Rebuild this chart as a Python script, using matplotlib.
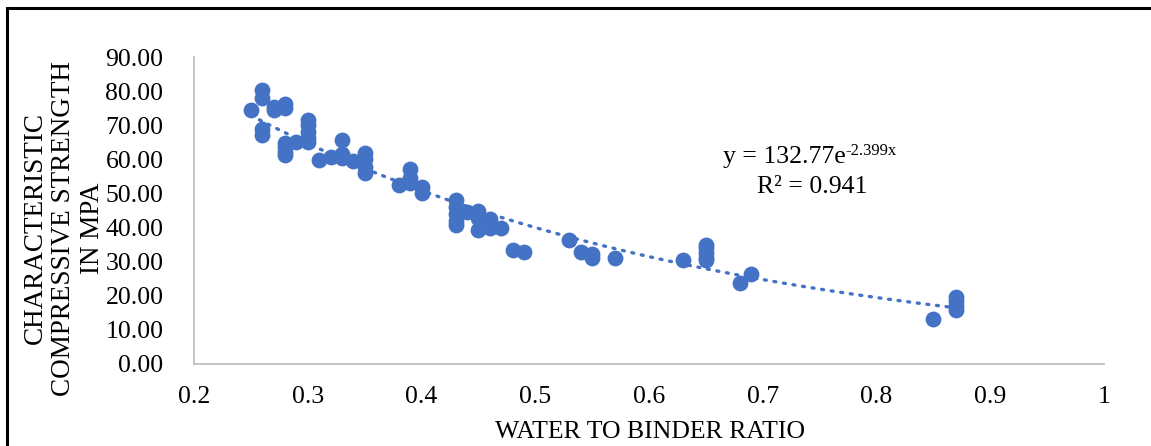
import numpy as np
import matplotlib.pyplot as plt
from matplotlib.patches import Rectangle

plt.rcParams['font.family'] = ['Liberation Serif', 'DejaVu Serif']

BLUE = '#4472C4'

# water / binder ratio and strength (MPa)
wb = [0.25, 0.26, 0.26, 0.26, 0.26, 0.27, 0.27, 0.28, 0.28,
      0.28, 0.28, 0.28, 0.28, 0.29, 0.30, 0.30, 0.30, 0.30, 0.30,
      0.31, 0.32, 0.33, 0.33, 0.33, 0.34, 0.35, 0.35, 0.35, 0.35,
      0.38, 0.39, 0.39, 0.39, 0.40, 0.40,
      0.43, 0.43, 0.43, 0.43, 0.43, 0.44, 0.45, 0.45, 0.45, 0.46, 0.46, 0.47,
      0.48, 0.49, 0.53, 0.54, 0.55, 0.55, 0.57, 0.63,
      0.65, 0.65, 0.65, 0.65, 0.65, 0.68, 0.69,
      0.85, 0.87, 0.87, 0.87, 0.87]
strength = [74.5, 80.3, 78.0, 69.0, 67.2, 75.3, 74.5, 76.2, 75.0,
            64.8, 63.5, 62.2, 61.3, 65.0, 71.5, 70.0, 68.0, 66.2, 65.2,
            59.8, 60.7, 65.7, 61.5, 60.3, 59.5, 62.0, 60.0, 57.8, 56.0,
            52.5, 57.2, 54.5, 53.0, 52.0, 50.0,
            48.0, 46.0, 44.0, 42.0, 40.7, 44.6, 45.0, 42.8, 39.3, 42.5, 40.0, 39.9,
            33.4, 32.8, 36.3, 32.8, 32.3, 31.2, 31.0, 30.5,
            35.0, 34.0, 32.5, 31.0, 30.5, 23.7, 26.4,
            13.2, 19.6, 18.5, 17.0, 15.8]

# exponential trendline shown on the chart
fit_a = 132.77
fit_b = -2.399
fit_r2 = 0.941

xticks = [0.2, 0.3, 0.4, 0.5, 0.6, 0.7, 0.8, 0.9, 1.0]
xticklabels = ['0.2', '0.3', '0.4', '0.5', '0.6', '0.7', '0.8', '0.9', '1']
yticks = [0, 10, 20, 30, 40, 50, 60, 70, 80, 90]

W, H = 1151, 446
fig = plt.figure(figsize=(W / 100, H / 100), dpi=100)
ax = fig.add_axes([194 / W, 1 - 364 / H, (1104 - 194) / W, (364 - 57) / H])

ax.scatter(wb, strength, s=130, color=BLUE, zorder=3, linewidths=0)
xf = np.linspace(min(wb), max(wb), 200)
ax.plot(xf, fit_a * np.exp(fit_b * xf), color=BLUE, lw=2.4,
        linestyle=(0, (0.6, 2.3)), dash_capstyle='round', zorder=2)

ax.set_xlim(0.2, 1.0)
ax.set_ylim(0, 90)
ax.set_xticks(xticks)
ax.set_xticklabels(xticklabels)
ax.set_yticks(yticks)
ax.set_yticklabels([f'{v:.2f}' for v in yticks])
ax.tick_params(length=0, labelsize=18.5)
ax.tick_params(axis='x', pad=16)
ax.tick_params(axis='y', pad=22)
for side in ['top', 'right']:
    ax.spines[side].set_visible(False)
for side in ['left', 'bottom']:
    ax.spines[side].set_color('#bfbfbf')
    ax.spines[side].set_linewidth(1.3)

fig.text(650 / W, 1 - 432 / H, 'WATER TO BINDER RATIO', fontsize=18.5,
         ha='center', va='center')
fig.text(64 / W, 1 - 228 / H, 'CHARACTERISTIC\nCOMPRESSIVE STRENGTH\nIN MPA',
         fontsize=19.5, rotation=90, ha='center', va='center',
         multialignment='center', linespacing=1.2)

eq = fig.text(723 / W, 1 - 157 / H, f'y = {fit_a}e', fontsize=18.5,
              ha='left', va='center')
fig.canvas.draw()
bb = eq.get_window_extent()
fig.text(bb.x1 / W, (bb.y1 - 5) / H, f'{fit_b}x', fontsize=12,
         ha='left', va='center')
fig.text(812 / W, 1 - 187 / H, f'R² = {fit_r2}', fontsize=18.5,
         ha='center', va='center')

fig.patches.append(Rectangle((7 / W, -0.05), 1.1, 1 - 8 / H + 0.05,
                             transform=fig.transFigure, fill=False,
                             edgecolor='black', lw=2.2))

fig.savefig('out.png', dpi=100)
